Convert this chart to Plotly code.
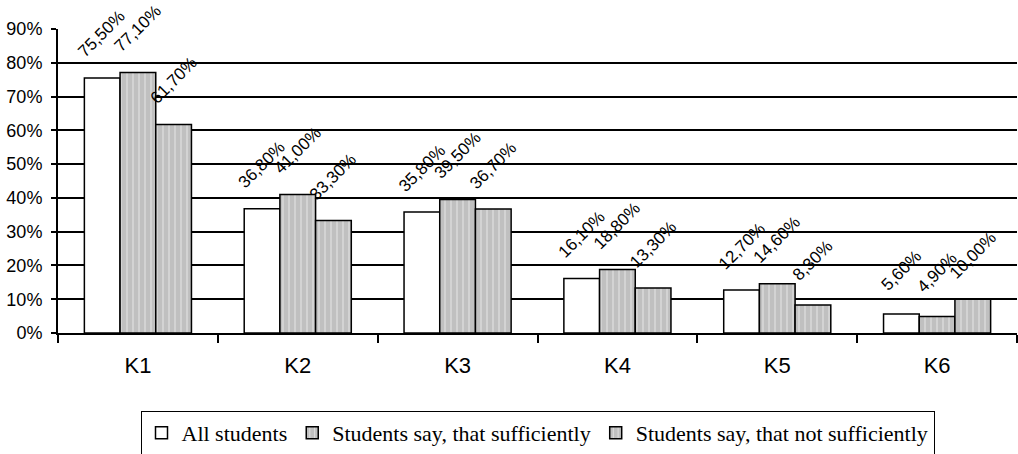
import plotly.graph_objects as go

categories = ["K1", "K2", "K3", "K4", "K5", "K6"]
series_names = ["All students", "Students say, that sufficiently", "Students say, that not sufficiently"]
all_students = [75.5, 36.8, 35.8, 16.1, 12.7, 5.6]
sufficiently = [77.1, 41.0, 39.5, 18.8, 14.6, 4.9]
not_sufficiently = [61.7, 33.3, 36.7, 13.3, 8.3, 10.0]
y_ticks = [0, 10, 20, 30, 40, 50, 60, 70, 80, 90]


def fmt(v):
    return f"{v:.2f}".replace(".", ",") + "%"


W, H = 1018, 454
ML, MR, MT, MB = 58, 1, 29, 121
BARGAP = 0.33
fig = go.Figure()
gray_pattern = dict(shape="|", fgcolor="white", bgcolor="#c0c0c0", size=6, solidity=0.2)
styles = [
    dict(color="white", pattern=None),
    dict(color="#c0c0c0", pattern=gray_pattern),
    dict(color="#c0c0c0", pattern=gray_pattern),
]
series = [all_students, sufficiently, not_sufficiently]
for name, vals, st in zip(series_names, series, styles):
    marker = dict(color=st["color"], line=dict(color="black", width=1.5))
    if st["pattern"]:
        marker["pattern"] = st["pattern"]
    fig.add_trace(go.Bar(x=categories, y=vals, name=name, marker=marker))

# data labels, rotated, centred over each bar
cat_px = (W - ML - MR) / len(categories)
bar_px = cat_px * (1 - BARGAP) / len(series)
for i, vals in enumerate(series):
    for c, v in zip(categories, vals):
        fig.add_annotation(
            x=c, y=v, xref="x", yref="y", text=fmt(v), showarrow=False,
            textangle=-45, xanchor="center", yanchor="middle",
            xshift=(i - 1) * bar_px, yshift=44,
            font=dict(family="Liberation Sans", size=17, color="black"),
        )

fig.update_layout(
    width=W, height=H,
    margin=dict(l=ML, r=MR, t=MT, b=MB),
    paper_bgcolor="white", plot_bgcolor="white",
    barmode="group", bargap=BARGAP, bargroupgap=0,
    font=dict(family="Liberation Sans", color="black"),
    showlegend=True,
    legend=dict(
        orientation="h", xref="paper", yref="container",
        x=0.5, xanchor="center", y=0.095, yanchor="top",
        bordercolor="black", borderwidth=1,
        font=dict(family="Liberation Serif", size=22, color="black"),
        itemwidth=30, tracegroupgap=0,
    ),
    xaxis=dict(
        showline=True, linecolor="black", linewidth=2, automargin=False,
        ticks="outside", tickson="boundaries", ticklen=8, tickcolor="black", tickwidth=1.5,
        tickfont=dict(size=22, family="Liberation Sans"), ticklabelstandoff=12,
        showgrid=False,
    ),
    yaxis=dict(
        range=[0, 90], tickvals=y_ticks, ticktext=[f"{t}%" for t in y_ticks],
        showline=True, linecolor="black", linewidth=2, automargin=False,
        ticks="outside", ticklen=5, tickcolor="black", tickwidth=1.5,
        tickfont=dict(size=18, family="Liberation Sans"), ticklabelstandoff=5,
        showgrid=True, gridcolor="black", gridwidth=1.5,
        zeroline=False,
    ),
)

fig.write_html(
    "out.html",
    config={"displayModeBar": False},
    post_script="document.body.style.margin='0px';",
)
